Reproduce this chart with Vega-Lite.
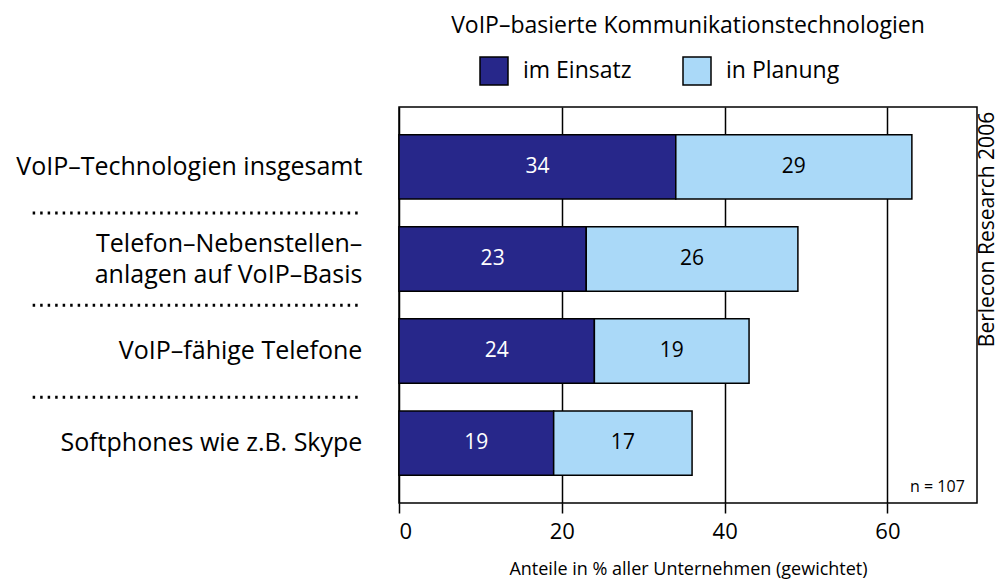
{
  "$schema": "https://vega.github.io/schema/vega-lite/v6.json",
  "width": 578,
  "height": 396,
  "autosize": {"type": "none"},
  "padding": {"left": 399, "top": 107, "right": 28, "bottom": 85},
  "background": "white",
  "config": {
    "font": "Open Sans",
    "view": {"stroke": "black", "strokeWidth": 1.5},
    "text": {"font": "Open Sans"}
  },
  "title": {
    "text": "VoIP–basierte Kommunikationstechnologien",
    "fontSize": 23,
    "fontWeight": "normal",
    "anchor": "middle",
    "offset": 18,
    "color": "black",
    "font": "Open Sans"
  },
  "datasets": {
    "bars": [
      {"cat": "VoIP–Technologien insgesamt", "series": "im Einsatz", "value": 34},
      {"cat": "VoIP–Technologien insgesamt", "series": "in Planung", "value": 29},
      {"cat": "Telefon–Nebenstellen–\nanlagen auf VoIP–Basis", "series": "im Einsatz", "value": 23},
      {"cat": "Telefon–Nebenstellen–\nanlagen auf VoIP–Basis", "series": "in Planung", "value": 26},
      {"cat": "VoIP–fähige Telefone", "series": "im Einsatz", "value": 24},
      {"cat": "VoIP–fähige Telefone", "series": "in Planung", "value": 19},
      {"cat": "Softphones wie z.B. Skype", "series": "im Einsatz", "value": 19},
      {"cat": "Softphones wie z.B. Skype", "series": "in Planung", "value": 17}
    ],
    "cats1": [
      {"cat": "VoIP–Technologien insgesamt"},
      {"cat": "VoIP–fähige Telefone"},
      {"cat": "Softphones wie z.B. Skype"}
    ],
    "cats2": [
      {"cat": "Telefon–Nebenstellen–\nanlagen auf VoIP–Basis"}
    ],
    "seps": [
      {"cat": "VoIP–Technologien insgesamt"},
      {"cat": "Telefon–Nebenstellen–\nanlagen auf VoIP–Basis"},
      {"cat": "VoIP–fähige Telefone"}
    ],
    "note": [
      {"cat": "Softphones wie z.B. Skype", "label": "n = 107"}
    ]
  },
  "layer": [
    {
      "data": {"name": "bars"},
      "mark": {"type": "bar", "stroke": "black", "strokeWidth": 1.5},
      "encoding": {
        "y": {
          "field": "cat", "type": "nominal",
          "scale": {
            "domain": ["VoIP–Technologien insgesamt", "Telefon–Nebenstellen–\nanlagen auf VoIP–Basis", "VoIP–fähige Telefone", "Softphones wie z.B. Skype"],
            "paddingInner": 0.3, "paddingOuter": 0.3
          },
          "axis": {
            "orient": "right", "labels": false, "ticks": false, "domain": false, "grid": false,
            "title": "Berlecon Research 2006", "titleAngle": 270, "titleFontSize": 21,
            "titleFontWeight": "normal", "titleColor": "black", "titleAlign": "center",
            "titleBaseline": "middle", "titleX": 10, "titleY": 122
          }
        },
        "x": {
          "field": "value", "type": "quantitative", "stack": "zero",
          "scale": {"domain": [0, 71], "nice": false},
          "axis": {
            "values": [0, 20, 40, 60], "grid": true, "gridColor": "black", "gridWidth": 1.5,
            "domain": false, "tickColor": "black", "tickSize": 10, "tickWidth": 1.5,
            "labelFontSize": 22, "labelColor": "black", "labelPadding": 8,
            "title": "Anteile in % aller Unternehmen (gewichtet)", "titleFontSize": 18,
            "titleFontWeight": "normal", "titleColor": "black", "titlePadding": 18
          }
        },
        "order": {"field": "series", "sort": "ascending"},
        "color": {
          "field": "series", "type": "nominal",
          "scale": {"domain": ["im Einsatz", "in Planung"], "range": ["#27278a", "#aad9f8"]},
          "legend": {
            "orient": "none", "legendX": 80, "legendY": -51, "direction": "horizontal",
            "title": null, "symbolType": "square", "symbolSize": 784,
            "symbolStrokeColor": "black", "symbolStrokeWidth": 1.5,
            "labelFontSize": 23, "labelColor": "black", "labelOffset": 14, "columnPadding": 48
          }
        }
      }
    },
    {
      "data": {"name": "bars"},
      "mark": {"type": "text", "fontSize": 21, "baseline": "middle", "align": "center", "fontWeight": 500},
      "encoding": {
        "y": {"field": "cat", "type": "nominal"},
        "x": {"field": "value", "type": "quantitative", "stack": "zero", "bandPosition": 0.5},
        "detail": {"field": "series"},
        "order": {"field": "series", "sort": "ascending"},
        "text": {"field": "value"},
        "color": {"condition": {"test": "datum.series === 'im Einsatz'", "value": "white"}, "value": "black"}
      }
    },
    {
      "data": {"name": "cats1"},
      "mark": {"type": "text", "fontSize": 25, "align": "right", "baseline": "middle", "color": "black"},
      "encoding": {
        "y": {"field": "cat", "type": "nominal"},
        "x": {"datum": -4.5, "type": "quantitative"},
        "text": {"field": "cat"}
      }
    },
    {
      "data": {"name": "cats2"},
      "mark": {"type": "text", "fontSize": 25, "align": "right", "baseline": "middle", "lineBreak": "\n", "lineHeight": 31, "color": "black", "dy": -15},
      "encoding": {
        "y": {"field": "cat", "type": "nominal"},
        "x": {"datum": -4.5, "type": "quantitative"},
        "text": {"field": "cat"}
      }
    },
    {
      "data": {"name": "seps"},
      "mark": {"type": "rule", "color": "black", "strokeWidth": 3, "strokeDash": [2.5, 5], "strokeCap": "butt", "yOffset": 14},
      "encoding": {
        "y": {"field": "cat", "type": "nominal", "bandPosition": 1},
        "x": {"datum": -45, "type": "quantitative"},
        "x2": {"datum": -4.5}
      }
    },
    {
      "data": {"name": "note"},
      "mark": {"type": "text", "fontSize": 16, "align": "right", "baseline": "middle", "color": "black", "dy": 12},
      "encoding": {
        "y": {"field": "cat", "type": "nominal", "bandPosition": 1},
        "x": {"datum": 69.5, "type": "quantitative"},
        "text": {"field": "label"}
      }
    }
  ]
}
